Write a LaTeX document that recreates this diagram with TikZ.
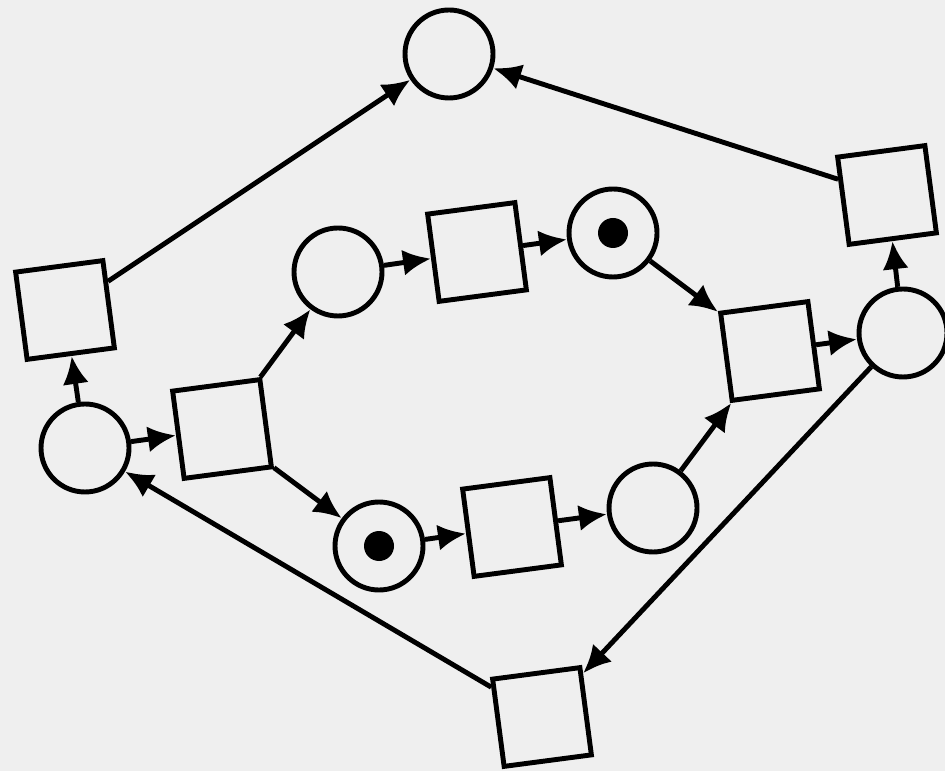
\documentclass[tikz,border=0pt]{standalone}
\usepackage{tikz}
\usetikzlibrary{petri, arrows.meta}
\usepackage{xcolor}
\definecolor{netBack}{HTML}{EFEFEF}
\definecolor{netInk}{HTML}{000000}

\begin{document}
\begin{tikzpicture}[
    ->,>={Latex[length=2.8mm,width=2.6mm]},
    every place/.style={draw=netInk, fill=netBack, line width=1.4pt, minimum size=0.88cm, inner sep=0pt},
    every transition/.style={draw=netInk, fill=netBack, line width=1.4pt, minimum size=0.88cm, inner sep=0pt, rotate=7.5},
    every token/.style={fill=netInk, minimum size=3mm},
    every edge/.style={draw=netInk, line width=1.4pt}
]
    \fill[netBack] (0,0) rectangle (9.45,7.71);
    \useasboundingbox (0,0) rectangle (9.45,7.71);

    \node[place] (Ptop) at (4.49,7.17) {};
    \node[transition] (Tleft) at (0.65,4.61) {};
    \node[place] (Pleft) at (0.85,3.23) {};
    \node[transition] (Tfork) at (2.22,3.42) {};
    \node[place] (Pa) at (3.38,4.99) {};
    \node[transition] (Ta) at (4.77,5.19) {};
    \node[place, tokens=1] (Pb) at (6.13,5.38) {};
    \node[place, tokens=1] (Pc) at (3.79,2.25) {};
    \node[transition] (Tc) at (5.12,2.44) {};
    \node[place] (Pd) at (6.53,2.63) {};
    \node[transition] (Tjoin) at (7.70,4.20) {};
    \node[place] (Pright) at (9.03,4.38) {};
    \node[transition] (Ttr) at (8.87,5.76) {};
    \node[transition] (Tbot) at (5.42,0.54) {};

    \path (Pleft) edge (Tleft)
          (Tleft) edge (Ptop)
          (Pleft) edge (Tfork)
          (Tfork) edge (Pa)
          (Tfork) edge (Pc)
          (Pa) edge (Ta)
          (Ta) edge (Pb)
          (Pb) edge (Tjoin)
          (Pc) edge (Tc)
          (Tc) edge (Pd)
          (Pd) edge (Tjoin)
          (Tjoin) edge (Pright)
          (Pright) edge (Ttr)
          (Ttr) edge (Ptop)
          (Pright) edge (Tbot)
          (Tbot) edge (Pleft);
\end{tikzpicture}
\end{document}
